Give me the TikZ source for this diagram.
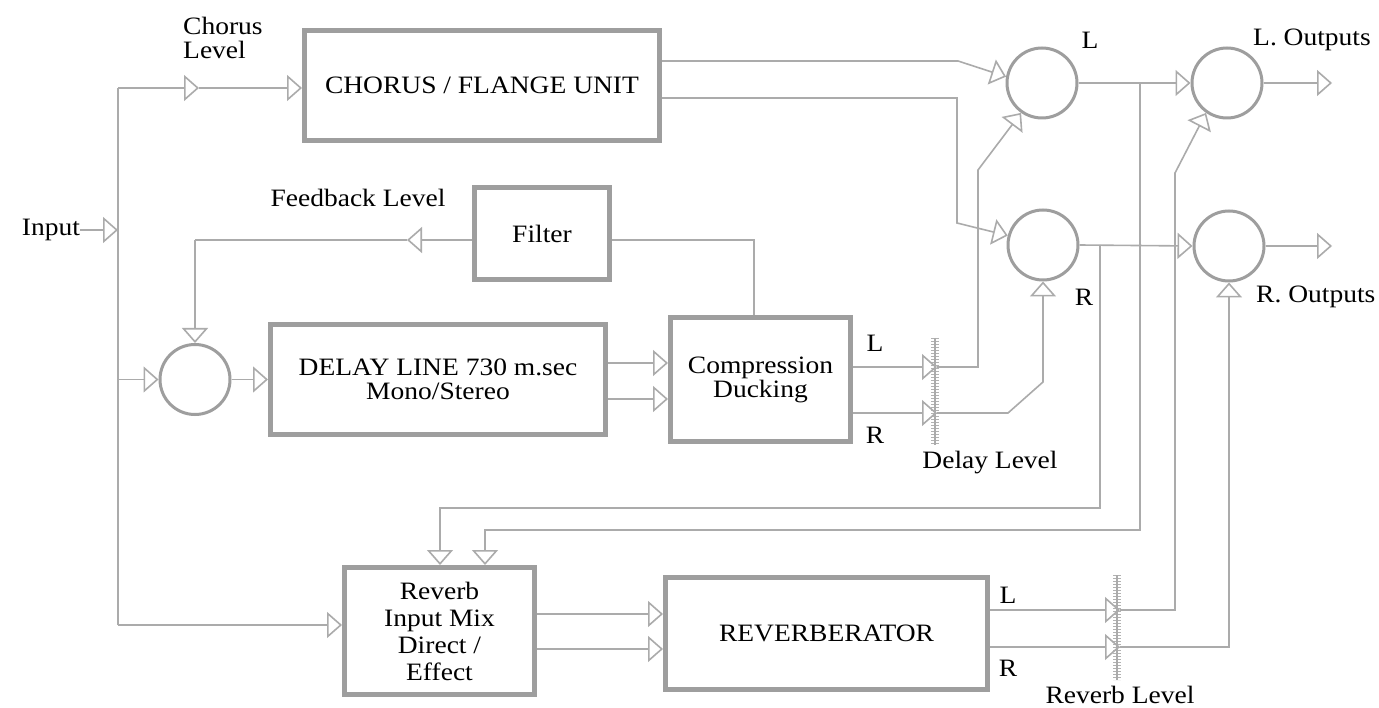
\documentclass[tikz,border=0pt]{standalone}
\usepackage{fontspec}
\setmainfont[FakeStretch=1.1]{Liberation Serif}
\usetikzlibrary{arrows.meta,calc}
\begin{document}
\begin{tikzpicture}[x=1pt,y=-1pt,
  wire/.style={draw=black!33,line width=1.6pt},
  arr/.style={wire,-{Triangle[open,length=15pt,width=26pt]}},
  blk/.style={draw=black!38,line width=5pt,rectangle,inner sep=0pt,align=center,text=black},
  sum/.style={draw=black!38,line width=3pt,circle,minimum size=70pt,inner sep=0pt},
  lbl/.style={text=black,inner sep=0pt,align=left},
  fader/.style={draw=black!30,line width=8pt,dash pattern=on 1.2pt off 1.8pt},
  every node/.style={font=\fontsize{25}{26}\selectfont}]
\fill[white] (0,0) rectangle (1379,708);
\useasboundingbox (0,0) rectangle (1379,708);

% blocks
\node[blk,minimum width=355pt,minimum height=110pt] (chorus) at (482,85.5) {CHORUS / FLANGE UNIT};
\node[blk,minimum width=135pt,minimum height=92pt] (filter) at (542,233.5) {Filter};
\node[blk,minimum width=335pt,minimum height=110pt] (delay) at (438,379.5) {DELAY LINE 730 m.sec\\[-2pt]Mono/Stereo};
\node[blk,minimum width=180pt,minimum height=124pt] (comp) at (760.5,379.5) {Compression\\[-2pt]Ducking};
\node[blk,minimum width=190pt,minimum height=127pt] (mix) at (439.5,631) {Reverb\\[1pt]Input Mix\\[1pt]Direct /\\[1pt]Effect};
\node[blk,minimum width=322pt,minimum height=112pt] (reverb) at (826.5,633.5) {REVERBERATOR};

% summing circles
\node[sum] (fb) at (195,379.5) {};
\node[sum] (L1) at (1042,83) {};
\node[sum] (R1) at (1043,245) {};
\node[sum] (L2) at (1227,83) {};
\node[sum] (R2) at (1229,246) {};

% labels
\node[lbl] (inlbl) at (51,230) {Input};
\node[lbl,anchor=west] (chlbl) at (183,38) {Chorus\\[-2pt]Level};
\node[lbl] (fblbl) at (358,198) {Feedback Level};
\node[lbl] (cL) at (875,343) {L};
\node[lbl] (cR) at (875,435) {R};
\node[lbl] (dlbl) at (990,463) {Delay Level};
\node[lbl] (rL) at (1008,595) {L};
\node[lbl] (rR) at (1008,668) {R};
\node[lbl,anchor=base] (rlbl) at (1120,703) {Reverb Level};
\node[lbl] (L1lbl) at (1090,40) {L};
\node[lbl,anchor=west] (Lout) at (1253,40) {L. Outputs};
\node[lbl] (R1lbl) at (1084,297) {R};
\node[lbl,anchor=west] (Rout) at (1256,297) {R. Outputs};

% coordinates
\coordinate (top) at (118,88);
\coordinate (bot) at (118,625);
\coordinate (injoin) at (118,230);
\coordinate (chlev) at (199,88);
\coordinate (fbl) at (407,240);
\coordinate (fbc) at (195,240);
\coordinate (filtc) at (754,240);
\coordinate (dL) at (937,367);
\coordinate (dR) at (937,413);
\coordinate (rvL) at (1120,610);
\coordinate (rvR) at (1120,647);
\coordinate (oL) at (1332,83);
\coordinate (oR) at (1332,246);
\coordinate (bL) at (1140,83);
\coordinate (bR) at (1100,245);
\coordinate (mL) at (485,530);
\coordinate (mR) at (440,508);
\coordinate (m1) at ([yshift=17pt]mix.east);
\coordinate (m2) at ([yshift=-18pt]mix.east);

% faders
\draw[fader] (935,338) -- (935,445);
\draw[wire] (935,338) -- (935,445);
\draw[fader] (1117,575) -- (1117,680);
\draw[wire] (1117,575) -- (1117,680);

% input distribution
\draw[arr] (inlbl.east) -- (injoin);
\draw[wire] (bot) -- (top);
\draw[arr] (top) -- (chlev);
\draw[arr] (chlev) -- (chorus.west |- chlev);
\draw[arr] (injoin |- fb) -- (fb.west);
\draw[arr] (bot) -- (bot -| mix.west);

% delay path
\draw[arr] (fb.east) -- (delay.west);
\draw[arr] ([yshift=16.5pt]delay.east) -- ([yshift=16.5pt]comp.west);
\draw[arr] ([yshift=-19.5pt]delay.east) -- ([yshift=-19.5pt]comp.west);
\draw[wire] (comp.north -| filtc) -- (filtc) -- (filter.east |- filtc);
\draw[arr] (filter.west |- filtc) -- (fbl);
\draw[wire] (fbl) -- (fbc);
\draw[arr] (fbc) -- (fb.north);

% chorus outputs
\draw[arr] ([yshift=24.5pt]chorus.east) -- (958,61) -- (L1.170);
\draw[arr] ([yshift=-12.5pt]chorus.east) -- (957,98) -- (957,223) -- (R1.165);

% compression outputs
\draw[arr] ([yshift=12.5pt]comp.east) -- (dL);
\draw[arr] (dL) -- (978,367) -- (978,170) -- (L1.235);
\draw[arr] ([yshift=-33.5pt]comp.east) -- (dR);
\draw[arr] (dR) -- (1008,413) -- (1043,382) -- (R1.south);

% mixers to outputs
\draw[arr] (L1.east) -- (L2.west);
\draw[arr] (R1.east) -- (R2.west);
\draw[arr] (L2.east) -- (oL);
\draw[arr] (R2.east) -- (oR);

% sends to reverb mix
\draw[arr] (bL) -- (bL |- mL) -- (mL) -- (mL |- mix.north);
\draw[arr] (bR) -- (bR |- mR) -- (mR) -- (mR |- mix.north);

% reverb
\draw[arr] (m1) -- (m1 -| reverb.west);
\draw[arr] (m2) -- (m2 -| reverb.west);
\draw[arr] ([yshift=23.5pt]reverb.east) -- (rvL);
\draw[arr] (rvL) -- (1175,610) -- (1175,173) -- (L2.235);
\draw[arr] ([yshift=-13.5pt]reverb.east) -- (rvR);
\draw[arr] (rvR) -- (rvR -| R2.south) -- (R2.south);
\end{tikzpicture}
\end{document}
